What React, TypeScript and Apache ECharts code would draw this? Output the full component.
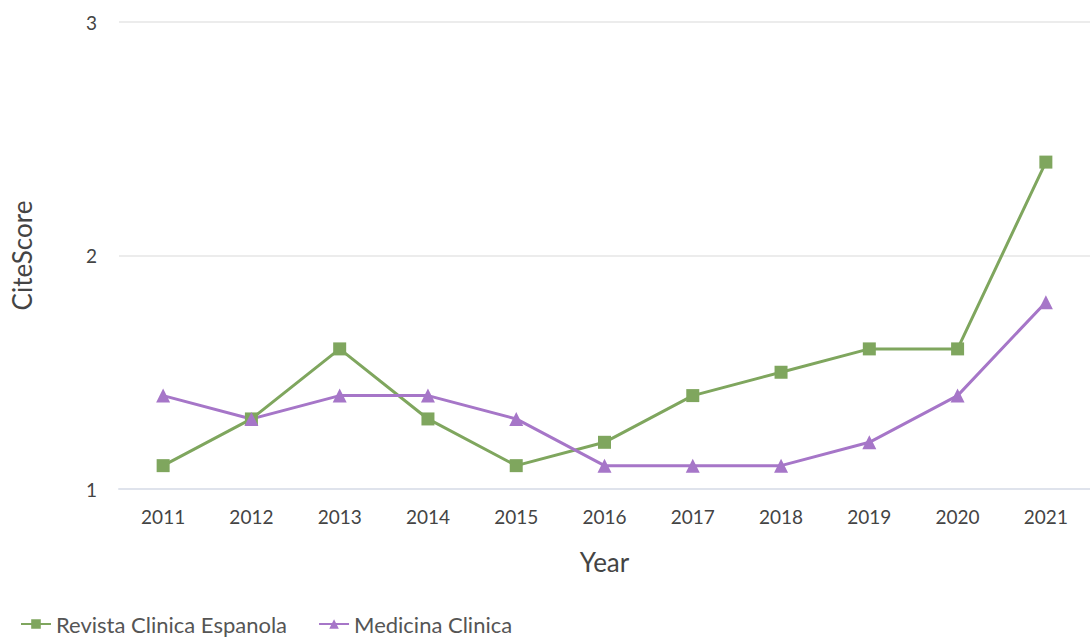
import React, { useEffect, useRef } from "react";
import * as echarts from "echarts";

const years = ["2011", "2012", "2013", "2014", "2015", "2016", "2017", "2018", "2019", "2020", "2021"];
const revistaValues = [1.1, 1.3, 1.6, 1.3, 1.1, 1.2, 1.4, 1.5, 1.6, 1.6, 2.4];
const medicinaValues = [1.4, 1.3, 1.4, 1.4, 1.3, 1.1, 1.1, 1.1, 1.2, 1.4, 1.8];
const seriesNames = ["Revista Clinica Espanola", "Medicina Clinica"];

const GREEN = "#7fa65e";
const PURPLE = "#a676c8";
const FONT = "Lato, 'Open Sans', sans-serif";

export default function App() {
  const ref = useRef<HTMLDivElement>(null);
  useEffect(() => {
    document.body.style.margin = "0";
    const chart = echarts.init(ref.current!, undefined, { renderer: "svg" });
    chart.setOption({
      animation: false,
      textStyle: { fontFamily: FONT },
      grid: { left: 119, right: 0, top: 22, bottom: 150 },
      legend: {
        left: 15,
        top: 608,
        itemWidth: 30,
        itemHeight: 12,
        itemGap: 31,
        textStyle: { fontSize: 22, color: "#555", fontFamily: FONT },
        data: seriesNames,
      },
      xAxis: {
        type: "category",
        data: years,
        name: "Year",
        nameLocation: "middle",
        nameGap: 60,
        nameTextStyle: { fontSize: 26, color: "#444", fontFamily: FONT },
        axisLine: { show: true, lineStyle: { color: "#dfe3ec", width: 2 } },
        axisTick: { show: false },
        axisLabel: { fontSize: 19, color: "#444", margin: 18, fontFamily: FONT },
      },
      yAxis: {
        type: "value",
        min: 1,
        max: 3,
        interval: 1,
        name: "CiteScore",
        nameLocation: "middle",
        nameGap: 84,
        nameTextStyle: { fontSize: 26, color: "#444", fontFamily: FONT },
        axisLine: { show: false },
        axisTick: { show: false },
        axisLabel: { fontSize: 19, color: "#444", margin: 22, fontFamily: FONT },
        splitLine: { lineStyle: { color: "#ececec", width: 2 } },
      },
      series: [
        {
          name: seriesNames[0],
          type: "line",
          data: revistaValues,
          symbol: "rect",
          symbolSize: 13,
          lineStyle: { color: GREEN, width: 3 },
          itemStyle: { color: GREEN },
        },
        {
          name: seriesNames[1],
          type: "line",
          data: medicinaValues,
          symbol: "triangle",
          symbolSize: 14,
          lineStyle: { color: PURPLE, width: 3 },
          itemStyle: { color: PURPLE },
        },
      ],
    });
    return () => chart.dispose();
  }, []);
  return <div ref={ref} style={{ width: 1090, height: 639 }} />;
}
